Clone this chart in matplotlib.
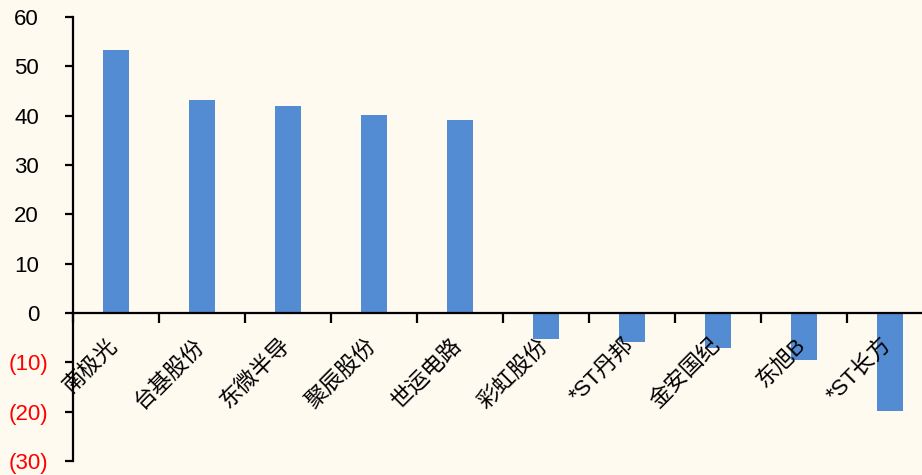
import matplotlib
matplotlib.use("Agg")
import matplotlib.pyplot as plt
import matplotlib.transforms as mtransforms
import numpy as np

# data
names = ["南极光", "台基股份", "东微半导", "聚辰股份", "世运电路",
         "彩虹股份", "*ST丹邦", "金安国纪", "东旭B", "*ST长方"]
values = [53.3, 43.2, 42.0, 40.2, 39.1, -5.3, -5.9, -7.1, -9.5, -19.9]
yticks = [-30, -20, -10, 0, 10, 20, 30, 40, 50, 60]

bg = "#FEFAF0"
bar_color = "#548CD4"

fig = plt.figure(figsize=(9.22, 4.75), dpi=100, facecolor=bg)
ax = fig.add_axes([73 / 922, 14 / 475, 860 / 922, 444 / 475])
ax.set_facecolor(bg)

x = np.arange(len(names))
ax.bar(x, values, width=0.3, color=bar_color, zorder=2)

ax.set_xlim(-0.5, len(names) - 0.5)
ax.set_ylim(-30, 60)

for s in ["top", "right"]:
    ax.spines[s].set_visible(False)
ax.spines["left"].set_linewidth(1.6)
ax.spines["bottom"].set_position(("data", 0))
ax.spines["bottom"].set_linewidth(1.6)
ax.spines["bottom"].set_zorder(3)

# y axis, negatives in red with parentheses (excel style: positives leave room for ")")
ax.set_yticks(yticks)
ylabels = [f"({-v})" if v < 0 else str(v) for v in yticks]
ax.set_yticklabels(ylabels, family="Liberation Sans", fontsize=16)
ax.tick_params(axis="y", direction="out", length=6, width=1.6, pad=12)
shift = mtransforms.ScaledTranslation(-9 / 100, 0, fig.dpi_scale_trans)
for lab, v in zip(ax.get_yticklabels(), yticks):
    if v < 0:
        lab.set_color("red")
    else:
        lab.set_transform(lab.get_transform() + shift)

# x ticks at category boundaries, names drawn as rotated text
ax.set_xticks(np.arange(-0.5, len(names), 1))
ax.set_xticklabels([])
ax.tick_params(axis="x", direction="out", length=7, width=1.6)

for i, name in enumerate(names):
    ax.text(i - 0.1, -4.4, name, rotation=45, rotation_mode="anchor",
            ha="right", va="top", fontsize=16,
            family=["Liberation Sans", "Noto Sans CJK SC"], zorder=4)

fig.savefig("out.png", dpi=100, facecolor=bg)
